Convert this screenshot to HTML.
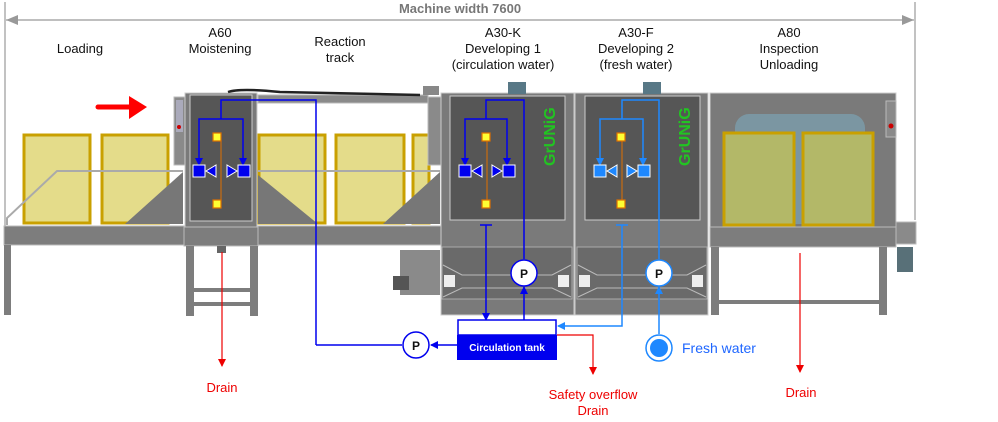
<!DOCTYPE html>
<html><head><meta charset="utf-8"><style>
body{margin:0;background:#fff;}
svg{display:block;font-family:"Liberation Sans",Arial,sans-serif;}
</style></head><body>
<svg width="998" height="422" viewBox="0 0 998 422" xmlns="http://www.w3.org/2000/svg">
<defs>
<marker id="ab" markerWidth="8" markerHeight="8" refX="7" refY="4" orient="auto" markerUnits="userSpaceOnUse"><path d="M0,0 L8,4 L0,8z" fill="#0000ee"/></marker>
<marker id="al" markerWidth="8" markerHeight="8" refX="7" refY="4" orient="auto" markerUnits="userSpaceOnUse"><path d="M0,0 L8,4 L0,8z" fill="#1e88ff"/></marker>
<marker id="ar" markerWidth="8" markerHeight="8" refX="7" refY="4" orient="auto" markerUnits="userSpaceOnUse"><path d="M0,0 L8,4 L0,8z" fill="#ee0000"/></marker>
<marker id="ag" markerWidth="12" markerHeight="10" refX="0" refY="5" orient="auto" markerUnits="userSpaceOnUse"><path d="M12,0 L0,5 L12,10z" fill="#999"/></marker>
<marker id="ag2" markerWidth="12" markerHeight="10" refX="12" refY="5" orient="auto" markerUnits="userSpaceOnUse"><path d="M0,0 L12,5 L0,10z" fill="#999"/></marker>
</defs>

<line x1="5" y1="2" x2="5" y2="228" stroke="#999" stroke-width="1.2"/>
<line x1="915" y1="2" x2="915" y2="220" stroke="#999" stroke-width="1.2"/>
<line x1="6" y1="20" x2="914" y2="20" stroke="#999" stroke-width="1.2" marker-start="url(#ag)" marker-end="url(#ag2)"/>
<text x="460" y="13" font-size="13" font-weight="bold" fill="#777" text-anchor="middle">Machine width 7600</text>

<g font-size="13" fill="#111" text-anchor="middle">
<text x="80" y="53">Loading</text>
<text x="220" y="37">A60</text><text x="220" y="53">Moistening</text>
<text x="340" y="46">Reaction</text><text x="340" y="62">track</text>
<text x="503" y="37">A30-K</text><text x="503" y="53">Developing 1</text><text x="503" y="69">(circulation water)</text>
<text x="636" y="37">A30-F</text><text x="636" y="53">Developing 2</text><text x="636" y="69">(fresh water)</text>
<text x="789" y="37">A80</text><text x="789" y="53">Inspection</text><text x="789" y="69">Unloading</text>
</g>

<line x1="98" y1="107" x2="132" y2="107" stroke="#f00" stroke-width="5" stroke-linecap="round"/>
<path d="M129,96 L147,107 L129,119z" fill="#f00"/>

<rect x="24" y="135" width="66" height="88" fill="#e4dc8a" stroke="#c9a000" stroke-width="3"/>
<rect x="102" y="135" width="66" height="88" fill="#e4dc8a" stroke="#c9a000" stroke-width="3"/>
<path d="M125,224 L183,172 L183,224z" fill="#777"/>
<polyline points="7,225 7,218 57,171 183,171" fill="none" stroke="#aaa" stroke-width="2"/>
<rect x="4" y="226" width="180" height="19" fill="#7d7d7d" stroke="#bbb"/>
<rect x="4" y="245" width="7" height="70" fill="#7d7d7d"/>
<rect x="174" y="97" width="11" height="68" fill="#8a8a8a" stroke="#bbb"/>
<rect x="176" y="100" width="7" height="32" fill="#aab"/>
<circle cx="179" cy="127" r="2" fill="#c00"/>
<rect x="185" y="93" width="72" height="135" fill="#7a7a7a" stroke="#ccc"/>
<rect x="190" y="95" width="62" height="126" fill="#565656" stroke="#ccc"/>
<rect x="184" y="227" width="74" height="19" fill="#7d7d7d" stroke="#bbb"/>
<rect x="186" y="246" width="8" height="70" fill="#7d7d7d"/>
<rect x="250" y="246" width="8" height="70" fill="#7d7d7d"/>
<rect x="194" y="288" width="56" height="4" fill="#7d7d7d"/>
<rect x="194" y="302" width="56" height="4" fill="#7d7d7d"/>
<rect x="217" y="246" width="9" height="7" fill="#666"/>
<rect x="258" y="95" width="170" height="8" fill="#8a8a8a" stroke="#bbb"/>
<rect x="259" y="135" width="66" height="88" fill="#e4dc8a" stroke="#c9a000" stroke-width="3"/>
<rect x="336" y="135" width="68" height="88" fill="#e4dc8a" stroke="#c9a000" stroke-width="3"/>
<rect x="413" y="135" width="16" height="88" fill="#e4dc8a" stroke="#c9a000" stroke-width="3"/>
<path d="M258,175 L318,224 L258,224z" fill="#777"/>
<path d="M383,224 L440,172 L440,224z" fill="#777"/>
<line x1="258" y1="171" x2="440" y2="171" stroke="#aaa" stroke-width="2"/>
<rect x="428" y="97" width="13" height="68" fill="#8a8a8a" stroke="#bbb"/>
<rect x="258" y="226" width="184" height="19" fill="#7d7d7d" stroke="#bbb"/>
<path d="M228,92 Q240,88 280,92 L420,95" fill="none" stroke="#222" stroke-width="2.5"/>
<rect x="400" y="250" width="40" height="45" fill="#8a8a8a"/>
<rect x="393" y="276" width="16" height="14" fill="#555"/>
<rect x="423" y="86" width="16" height="9" fill="#888"/>

<g>
<rect x="441" y="93" width="133" height="222" fill="#7a7a7a" stroke="#ccc"/>
<rect x="450" y="96" width="115" height="124" fill="#565656" stroke="#ccc"/>
<rect x="442" y="247" width="130" height="52" fill="#6a6a6a" stroke="#aaa"/>
<path d="M443,265 L462,275 L552,275 L571,265 M443,297 L462,288 L552,288 L571,297" fill="none" stroke="#bbb"/>
<rect x="444" y="275" width="11" height="12" fill="#eee"/>
<rect x="558" y="275" width="11" height="12" fill="#eee"/>
<rect x="508" y="82" width="18" height="12" fill="#587886"/>
<rect x="575" y="93" width="133" height="222" fill="#7a7a7a" stroke="#ccc"/>
<rect x="585" y="96" width="115" height="124" fill="#565656" stroke="#ccc"/>
<rect x="577" y="247" width="130" height="52" fill="#6a6a6a" stroke="#aaa"/>
<path d="M578,265 L597,275 L687,275 L706,265 M578,297 L597,288 L687,288 L706,297" fill="none" stroke="#bbb"/>
<rect x="579" y="275" width="11" height="12" fill="#eee"/>
<rect x="692" y="275" width="11" height="12" fill="#eee"/>
<rect x="643" y="82" width="18" height="12" fill="#587886"/>
<text transform="translate(555,166) rotate(-90)" font-size="16" font-weight="bold" fill="#22c422">GrUNiG</text>
<text transform="translate(690,166) rotate(-90)" font-size="16" font-weight="bold" fill="#22c422">GrUNiG</text>
</g>

<rect x="710" y="93" width="186" height="135" fill="#7a7a7a" stroke="#ccc"/>
<rect x="735" y="114" width="130" height="110" rx="14" fill="#7b96a2"/>
<rect x="724" y="133" width="70" height="92" fill="#b3b868" stroke="#c9a000" stroke-width="3"/>
<rect x="803" y="133" width="70" height="92" fill="#b3b868" stroke="#c9a000" stroke-width="3"/>
<rect x="886" y="101" width="10" height="36" fill="#8a8a8a" stroke="#bbb"/>
<circle cx="891" cy="126" r="2.5" fill="#c00"/>
<rect x="896" y="222" width="20" height="22" fill="#8a8a8a" stroke="#bbb"/>
<rect x="897" y="247" width="16" height="25" fill="#587078"/>
<rect x="710" y="227" width="186" height="20" fill="#7d7d7d" stroke="#bbb"/>
<rect x="711" y="247" width="8" height="68" fill="#7d7d7d"/>
<rect x="879" y="247" width="8" height="68" fill="#7d7d7d"/>
<rect x="719" y="300" width="160" height="4" fill="#7d7d7d"/>

<g fill="#ffff33" stroke="#e07000" stroke-width="1.2">
<rect x="213" y="133" width="8" height="8"/><rect x="213" y="200" width="8" height="8"/>
<rect x="482" y="133" width="8" height="8"/><rect x="482" y="200" width="8" height="8"/>
<rect x="617" y="133" width="8" height="8"/><rect x="617" y="200" width="8" height="8"/>
</g>
<g stroke="#e07000"><line x1="221" y1="137" x2="221" y2="204"/><line x1="487" y1="141" x2="487" y2="200"/><line x1="622" y1="141" x2="622" y2="200"/></g>

<g fill="none" stroke="#0000ee" stroke-width="1.5">
<polyline points="316,345 316,100 221,100 221,119"/>
<polyline points="199,165 199,119 243,119 243,165" />
<line x1="199" y1="158" x2="199" y2="165" marker-end="url(#ab)"/>
<line x1="243" y1="158" x2="243" y2="165" marker-end="url(#ab)"/>
<line x1="316" y1="345" x2="402" y2="345"/>
<line x1="457" y1="345" x2="431" y2="345" marker-end="url(#ab)"/>
<polyline points="524,259 524,100 486,100 486,119"/>
<polyline points="465,165 465,119 507,119 507,165"/>
<line x1="465" y1="158" x2="465" y2="165" marker-end="url(#ab)"/>
<line x1="507" y1="158" x2="507" y2="165" marker-end="url(#ab)"/>
<line x1="480" y1="225" x2="492" y2="225"/>
<line x1="486" y1="225" x2="486" y2="320" marker-end="url(#ab)"/>
<line x1="524" y1="320" x2="524" y2="287" marker-end="url(#ab)"/>
</g>
<g fill="none" stroke="#1e88ff" stroke-width="1.5">
<polyline points="659,259 659,100 622,100 622,119"/>
<polyline points="600,165 600,119 643,119 643,165"/>
<line x1="600" y1="158" x2="600" y2="165" marker-end="url(#al)"/>
<line x1="643" y1="158" x2="643" y2="165" marker-end="url(#al)"/>
<line x1="616" y1="225" x2="628" y2="225"/>
<polyline points="622,225 622,326 566,326"/>
<line x1="566" y1="326" x2="558" y2="326" marker-end="url(#al)"/>
<line x1="659" y1="334" x2="659" y2="287" marker-end="url(#al)"/>
</g>
<g stroke="#fff" stroke-width="1">
<rect x="193" y="165" width="12" height="12" fill="#0000ee"/><path d="M206,171 L216,165 L216,177z" fill="#0000ee"/>
<path d="M237,171 L227,165 L227,177z" fill="#0000ee"/><rect x="238" y="165" width="12" height="12" fill="#0000ee"/>
<rect x="459" y="165" width="12" height="12" fill="#0000ee"/><path d="M472,171 L482,165 L482,177z" fill="#0000ee"/>
<path d="M502,171 L492,165 L492,177z" fill="#0000ee"/><rect x="503" y="165" width="12" height="12" fill="#0000ee"/>
<rect x="594" y="165" width="12" height="12" fill="#1e88ff"/><path d="M607,171 L617,165 L617,177z" fill="#1e88ff"/>
<path d="M637,171 L627,165 L627,177z" fill="#1e88ff"/><rect x="638" y="165" width="12" height="12" fill="#1e88ff"/>
</g>

<g font-size="12" font-weight="bold" text-anchor="middle" fill="#111">
<circle cx="416" cy="345" r="13" fill="#fff" stroke="#0000ee" stroke-width="1.5"/><text x="416" y="350">P</text>
<circle cx="524" cy="273" r="13" fill="#fff" stroke="#0000ee" stroke-width="1.5"/><text x="524" y="278">P</text>
<circle cx="659" cy="273" r="13" fill="#fff" stroke="#1e88ff" stroke-width="1.5"/><text x="659" y="278">P</text>
</g>
<circle cx="659" cy="348" r="13" fill="#fff" stroke="#1e88ff" stroke-width="1.5"/>
<circle cx="659" cy="348" r="9" fill="#1e88ff"/>
<text x="682" y="353" font-size="14" fill="#1e66ff">Fresh water</text>

<rect x="458" y="320" width="98" height="15" fill="#fff" stroke="#0000ee" stroke-width="1.5"/>
<rect x="457" y="335" width="100" height="25" fill="#0000ee"/>
<text x="507" y="351" font-size="10" font-weight="bold" fill="#fff" text-anchor="middle">Circulation tank</text>

<g stroke="#ee0000" stroke-width="1.2" fill="none">
<line x1="222" y1="252" x2="222" y2="366" marker-end="url(#ar)"/>
<polyline points="557,335 593,335 593,374" marker-end="url(#ar)"/>
<line x1="800" y1="253" x2="800" y2="372" marker-end="url(#ar)"/>
</g>
<g font-size="13" fill="#ee0000" text-anchor="middle">
<text x="222" y="392">Drain</text>
<text x="593" y="399">Safety overflow</text><text x="593" y="415">Drain</text>
<text x="801" y="397">Drain</text>
</g>
</svg>
</body></html>
